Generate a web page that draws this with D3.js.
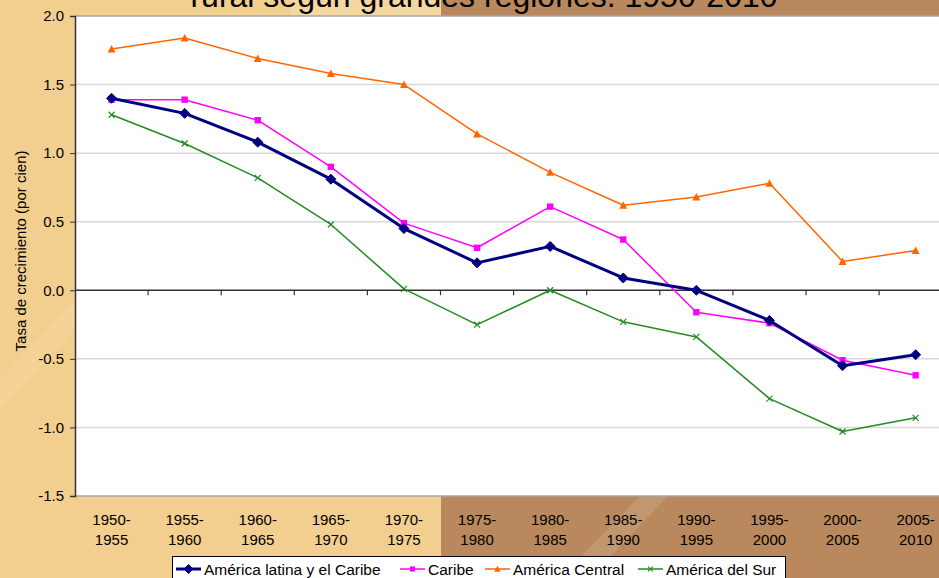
<!DOCTYPE html>
<html><head><meta charset="utf-8">
<script src="https://cdn.jsdelivr.net/npm/d3@7"></script>
<style>html,body{margin:0;padding:0;overflow:hidden;background:#f3cf8f}svg{display:block;font-family:"Liberation Sans",Arial,sans-serif}</style>
</head><body>
<svg id="c" width="939" height="578"></svg>
<script>
const categories = ["1950-1955","1955-1960","1960-1965","1965-1970","1970-1975","1975-1980","1980-1985","1985-1990","1990-1995","1995-2000","2000-2005","2005-2010"];
const americaLatina = [1.40,1.29,1.08,0.81,0.45,0.20,0.32,0.09,0.00,-0.22,-0.55,-0.47];
const caribe = [1.39,1.39,1.24,0.90,0.49,0.31,0.61,0.37,-0.16,-0.24,-0.51,-0.62];
const americaCentral = [1.76,1.84,1.69,1.58,1.50,1.14,0.86,0.62,0.68,0.78,0.21,0.29];
const americaSur = [1.28,1.07,0.82,0.48,0.01,-0.25,0.00,-0.23,-0.34,-0.79,-1.03,-0.93];
const yTicks = [-1.5,-1.0,-0.5,0.0,0.5,1.0,1.5,2.0];
const seriesNames = ["América latina y el Caribe","Caribe","América Central","América del Sur"];

(function(){
const series = [
  {name: seriesNames[0], values: americaLatina, color: "#000080", width: 3, marker: "diamond"},
  {name: seriesNames[1], values: caribe, color: "#ff00ff", width: 1.5, marker: "square"},
  {name: seriesNames[2], values: americaCentral, color: "#ff6600", width: 1.5, marker: "triangle"},
  {name: seriesNames[3], values: americaSur, color: "#228b22", width: 1.5, marker: "x"}
];

const svg = d3.select("#c");
const W = 939, H = 578;
const pLeft = 75, pTop = 16, pBottom = 496, step = 73.1;

// background
svg.append("rect").attr("x",0).attr("y",0).attr("width",W).attr("height",H).attr("fill","#f3cf8f");
svg.append("rect").attr("x",441).attr("y",0).attr("width",W-441).attr("height",H).attr("fill","#b9885c");
svg.append("rect").attr("x",290).attr("y",0).attr("width",151).attr("height",16).attr("fill","#f5d7a2");
svg.append("path").attr("d","M560,578 L640,496 L668,496 L590,578 Z").attr("fill","#c4a27c").attr("opacity",0.6);
svg.append("path").attr("d","M0,380 L75,300 L75,330 L0,410 Z").attr("fill","#f7dcae").attr("opacity",0.3);

// title (partially cut, as in the reference)
svg.append("text").attr("x",484).attr("y",7).attr("text-anchor","middle")
  .attr("font-size",32).attr("fill","#000").text("rural según grandes regiones. 1950-2010");

const x = d3.scaleBand().domain(categories).range([pLeft, pLeft + step*categories.length]).padding(0);
const y = d3.scaleLinear().domain([-1.5, 2]).range([pBottom, pTop]);

// plot area
svg.append("rect").attr("x",pLeft).attr("y",pTop).attr("width",W-pLeft).attr("height",pBottom-pTop).attr("fill","#fff");

// gridlines
svg.append("g").selectAll("line").data(yTicks.filter(d => d !== 0 && d !== -1.5 && d !== 2)).join("line")
  .attr("x1",pLeft).attr("x2",W).attr("y1",d=>y(d)).attr("y2",d=>y(d))
  .attr("stroke","#d9d9d9").attr("stroke-width",1.5);
svg.append("line").attr("x1",pLeft).attr("x2",W).attr("y1",pTop).attr("y2",pTop).attr("stroke","#a6a6a6").attr("stroke-width",1.5);
svg.append("line").attr("x1",pLeft).attr("x2",W).attr("y1",pBottom).attr("y2",pBottom).attr("stroke","#a6a6a6").attr("stroke-width",1.5);

// y axis
const yAxis = d3.axisLeft(y).tickValues(yTicks).tickSize(5).tickPadding(6).tickFormat(d => d.toFixed(1));
const ga = svg.append("g").attr("transform",`translate(${pLeft},0)`).call(yAxis);
ga.select(".domain").attr("stroke","#333").attr("stroke-width",1.5);
ga.selectAll(".tick line").attr("stroke","#333");
ga.selectAll(".tick text").attr("font-size",15).attr("fill","#000").attr("font-family","Liberation Sans, Arial, sans-serif");

// zero axis with ticks at band boundaries
svg.append("line").attr("x1",pLeft).attr("x2",W).attr("y1",y(0)).attr("y2",y(0)).attr("stroke","#333").attr("stroke-width",1.5);
svg.append("g").selectAll("line").data(categories.slice(1)).join("line")
  .attr("x1",d=>x(d)).attr("x2",d=>x(d)).attr("y1",y(0)).attr("y2",y(0)+5)
  .attr("stroke","#333").attr("stroke-width",1.2);

// x labels
const xl = svg.append("g").selectAll("text").data(categories).join("text")
  .attr("text-anchor","middle").attr("font-size",15).attr("fill","#000");
xl.append("tspan").attr("x",d=>x(d)+x.bandwidth()/2).attr("y",525).text(d=>d.split("-")[0]+"-");
xl.append("tspan").attr("x",d=>x(d)+x.bandwidth()/2).attr("y",545).text(d=>d.split("-")[1]);

// y title
svg.append("text").attr("transform","translate(26,251) rotate(-90)").attr("text-anchor","middle")
  .attr("font-size",15).attr("fill","#000").text("Tasa de crecimiento (por cien)");

function drawMarker(g, type, cx, cy, color, scale) {
  const s = scale || 1;
  if (type === "diamond") {
    g.append("path").attr("d",`M${cx},${cy-5*s} L${cx+5*s},${cy} L${cx},${cy+5*s} L${cx-5*s},${cy} Z`).attr("fill",color).attr("stroke",color);
  } else if (type === "square") {
    g.append("rect").attr("x",cx-3.2*s).attr("y",cy-3.2*s).attr("width",6.4*s).attr("height",6.4*s).attr("fill",color);
  } else if (type === "triangle") {
    g.append("path").attr("d",`M${cx},${cy-4*s} L${cx+4*s},${cy+3.5*s} L${cx-4*s},${cy+3.5*s} Z`).attr("fill",color);
  } else {
    g.append("path").attr("d",`M${cx-3*s},${cy-3*s} L${cx+3*s},${cy+3*s} M${cx-3*s},${cy+3*s} L${cx+3*s},${cy-3*s}`).attr("stroke",color).attr("stroke-width",1.2);
  }
}

const line = d3.line().x((d,i)=>x(categories[i])+x.bandwidth()/2).y(d=>y(d));
[3,2,1,0].forEach(k => {
  const s = series[k];
  const g = svg.append("g");
  g.append("path").datum(s.values).attr("d",line).attr("fill","none").attr("stroke",s.color).attr("stroke-width",s.width).attr("stroke-linejoin","round");
  s.values.forEach((v,i) => drawMarker(g, s.marker, x(categories[i])+x.bandwidth()/2, y(v), s.color));
});

// legend
const lg = svg.append("g");
lg.append("rect").attr("x",172.5).attr("y",556.5).attr("width",613).attr("height",30).attr("fill","#fff").attr("stroke","#000").attr("stroke-width",1);
const legendX = [176, 400, 485, 638];
series.forEach((s,i) => {
  const lx = legendX[i], ly = 569;
  lg.append("line").attr("x1",lx).attr("x2",lx+25).attr("y1",ly).attr("y2",ly).attr("stroke",s.color).attr("stroke-width",s.width);
  drawMarker(lg, s.marker, lx+12.5, ly, s.color, s.marker==="diamond"?0.9:0.8);
  lg.append("text").attr("x",lx+28).attr("y",ly+5.5).attr("font-size",15.5).attr("fill","#000").text(s.name);
});
})();
</script>
</body></html>
